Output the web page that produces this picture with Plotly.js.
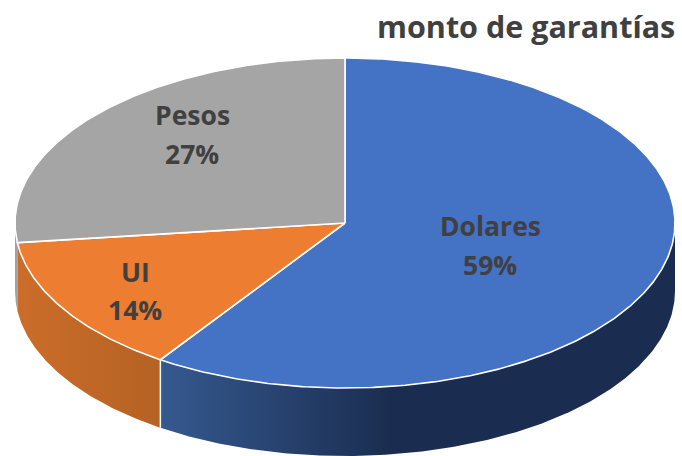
<!DOCTYPE html>
<html>
<head>
<meta charset="utf-8">
<script src="https://cdn.plot.ly/plotly-3.0.1.min.js"></script>
<style>html,body{margin:0;padding:0;background:#fff}#c{width:682px;height:456px}</style>
</head>
<body>
<div id="c"></div>
<script>
const categories = ['Dolares', 'UI', 'Pesos'];
const shares = [59.45, 13.65, 26.9];
const topColors = ['#4472c4', '#ed7d31', '#a5a5a5'];
const wallStops = [
  [[0, '#35598f'], [0.45, '#1a2d50'], [1, '#1a2d50']],
  [[0, '#cb6d2a'], [1, '#b56224']],
  [[0, '#a0a0a0'], [1, '#a0a0a0']]
];
const titleText = 'monto de garantías';

const cx = 345, cy = 223, rx = 330, ry = 165, depth = 68;
const STEP = 0.5;
const px = t => cx + rx * Math.sin(t * Math.PI / 180);
const py = t => cy - ry * Math.cos(t * Math.PI / 180);

function arcAngles(a, b) {
  const out = [];
  for (let t = a; t < b; t += STEP) out.push(t);
  out.push(b);
  return out;
}

const traces = [];
const total = shares.reduce((s, v) => s + v, 0);
let start = 0;
const spans = shares.map(v => {
  const s = [start, start + v / total * 360];
  start = s[1];
  return s;
});

// side walls: the part of each slice's rim that faces the viewer (90..270 deg)
spans.forEach(([a, b], i) => {
  const lo = Math.max(a, 90), hi = Math.min(b, 270);
  if (hi <= lo) return;
  const ang = arcAngles(lo, hi);
  const xs = ang.map(px).concat(ang.slice().reverse().map(px));
  const ys = ang.map(t => py(t)).concat(ang.slice().reverse().map(t => py(t) + depth));
  traces.push({
    x: xs.concat(xs[0]), y: ys.concat(ys[0]), type: 'scatter', mode: 'lines',
    fill: 'toself',
    fillgradient: {type: 'horizontal', colorscale: wallStops[i], start: Math.min(...xs), stop: Math.max(...xs)},
    line: {color: 'rgba(0,0,0,0)', width: 0},
    hoverinfo: 'skip'
  });
});

// white seam where two walls meet, down the visible front
spans.forEach(([a, b]) => {
  if (b > 90 && b < 262) {
    traces.push({
      x: [px(b), px(b)], y: [py(b), py(b) + depth], type: 'scatter', mode: 'lines',
      line: {color: '#ffffff', width: 1.5}, hoverinfo: 'skip'
    });
  }
});

// top faces
spans.forEach(([a, b], i) => {
  const ang = arcAngles(a, b);
  traces.push({
    x: [cx].concat(ang.map(px), cx), y: [cy].concat(ang.map(py), cy),
    type: 'scatter', mode: 'lines', fill: 'toself', fillcolor: topColors[i],
    line: {color: '#ffffff', width: 1.6}, hoverinfo: 'skip'
  });
});

const textFont = {family: 'Open Sans, Noto Sans, sans-serif', size: 26.5, color: '#404040'};
const labelSpots = [[490, 226, 265], [135, 272, 310], [192, 115, 154]];
const annotations = [];
categories.forEach((name, i) => {
  const [lx, ly1, ly2] = labelSpots[i];
  const common = {xref: 'x', yref: 'y', x: lx, showarrow: false, xanchor: 'center', yanchor: 'middle'};
  annotations.push(Object.assign({}, common, {y: ly1, text: '<b>' + name + '</b>', font: textFont}));
  annotations.push(Object.assign({}, common, {y: ly2, text: '<b>' + Math.round(shares[i]) + '%</b>', font: textFont}));
});
annotations.push({
  xref: 'x', yref: 'y', x: 677, y: 26, showarrow: false, xanchor: 'right', yanchor: 'middle',
  text: '<b>' + titleText + '</b>',
  font: {family: 'Open Sans, Noto Sans, sans-serif', size: 30.5, color: '#404040'}
});

Plotly.newPlot('c', traces, {
  width: 682, height: 456,
  margin: {l: 0, r: 0, t: 0, b: 0},
  paper_bgcolor: '#ffffff', plot_bgcolor: '#ffffff',
  showlegend: false, hovermode: false,
  xaxis: {range: [0, 682], visible: false, fixedrange: true},
  yaxis: {range: [456, 0], visible: false, fixedrange: true},
  annotations
}, {displayModeBar: false, staticPlot: true});
</script>
</body>
</html>
